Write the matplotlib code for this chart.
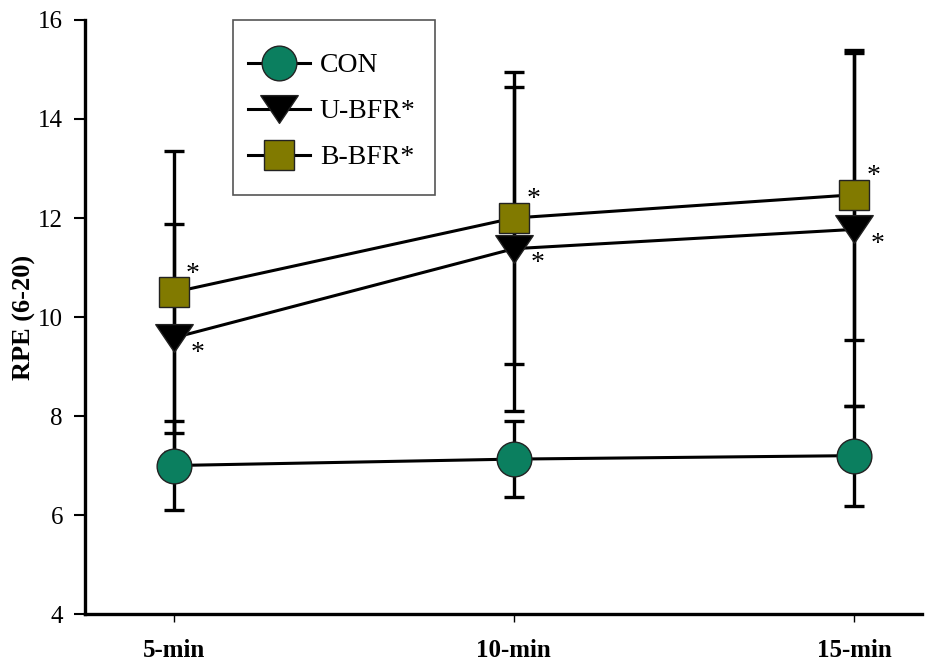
import numpy as np
import matplotlib.pyplot as plt
from matplotlib.path import Path
from matplotlib.patches import Rectangle

# data
times = ['5-min', '10-min', '15-min']
con_mean = [7.0, 7.13, 7.2]
con_sd = [0.9, 0.76, 1.01]
ubfr_mean = [9.58, 11.38, 11.77]
ubfr_sd = [2.3, 3.27, 3.56]
bbfr_mean = [10.5, 12.0, 12.47]
bbfr_sd = [2.85, 2.95, 2.93]

plt.rcParams['font.family'] = ['Liberation Serif', 'DejaVu Serif']

# wide down-pointing triangle
tri = Path([(-1, 0.74), (1, 0.74), (0, -0.74), (-1, 0.74)],
           [Path.MOVETO, Path.LINETO, Path.LINETO, Path.CLOSEPOLY])

W, H = 925, 666
fig = plt.figure(figsize=(W / 100, H / 100), dpi=100)
ax = fig.add_axes([0.092, 0.078, 0.905, 0.892])
x = np.arange(len(times))

series = [
    ('CON', con_mean, con_sd, 'o', '#0b7f5f', 25, 4),
    ('U-BFR*', ubfr_mean, ubfr_sd, tri, 'black', 27, 3),
    ('B-BFR*', bbfr_mean, bbfr_sd, 's', '#817a00', 22, 3),
]
handles = []
for name, m, s, mk, col, ms, z in series:
    ax.errorbar(x, m, yerr=s, fmt='none', ecolor='black', elinewidth=2.4,
                capsize=7, capthick=2.4, zorder=1)
    h, = ax.plot(x, m, color='black', lw=2.2, marker=mk, ms=ms,
                 markerfacecolor=col, markeredgecolor='#222222',
                 markeredgewidth=1, zorder=z, label=name)
    handles.append(h)

# significance asterisks
for xi, v in zip(x, bbfr_mean):
    ax.annotate('*', (xi, v), xytext=(14, 13), textcoords='offset points',
                ha='center', va='center', fontsize=20)
for xi, v in zip(x, ubfr_mean):
    ax.annotate('*', (xi, v), xytext=(17, -11), textcoords='offset points',
                ha='center', va='center', fontsize=20)

ax.set_xlim(-0.26, 2.2)
ax.set_ylim(4, 16)
ax.set_yticks(np.arange(4, 17, 2))
ax.set_xticks(x)
ax.set_xticklabels(times, fontweight='bold', fontsize=18)
ax.set_ylabel('RPE (6-20)', fontweight='bold', fontsize=19, labelpad=1.5)
ax.tick_params(axis='y', direction='out', length=8, width=1.5, labelsize=18, pad=8)
ax.tick_params(axis='x', direction='out', length=6, width=1, pad=12)
for sp in ['top', 'right']:
    ax.spines[sp].set_visible(False)
for sp in ['left', 'bottom']:
    ax.spines[sp].set_linewidth(2.4)

# legend entries without frame, box drawn separately
leg = ax.legend(handles=handles, loc='upper left',
                bbox_to_anchor=(248 / W, 1 - 53 / H),
                bbox_transform=fig.transFigure, fontsize=20,
                handlelength=2.23, labelspacing=0.74, borderpad=0,
                handletextpad=0.36, frameon=False, borderaxespad=0)
fig.patches.append(Rectangle((233 / W, 1 - 195 / H), 202 / W, 175 / H,
                             transform=fig.transFigure, fill=False,
                             ec='#555555', lw=1.2))

plt.savefig('out.png', dpi=100)
